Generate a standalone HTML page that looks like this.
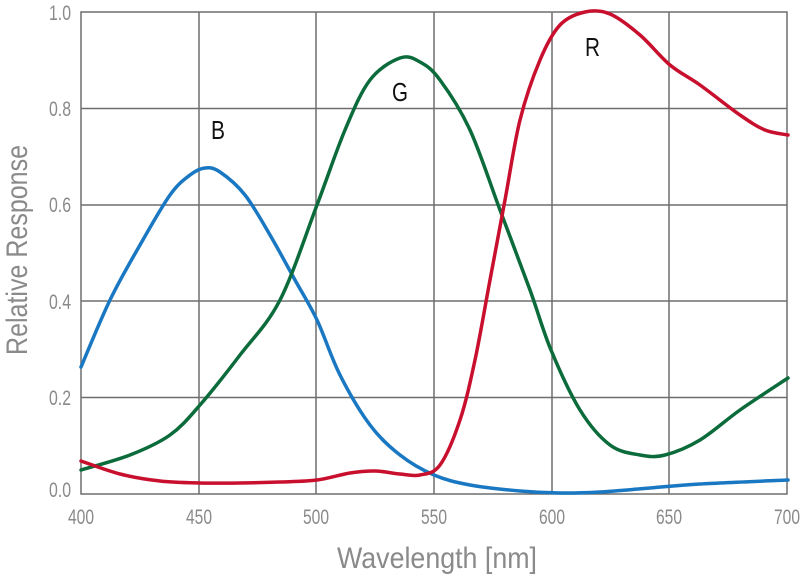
<!DOCTYPE html>
<html><head><style>body{margin:0;background:#fff}svg{display:block}</style></head><body>
<svg id="s" width="800" height="578" xmlns="http://www.w3.org/2000/svg" font-family="'Liberation Sans',sans-serif">
<g stroke="#6e6e6e" stroke-width="1.5" fill="none">
<rect x="81" y="12" width="706" height="482"/>
<line x1="199" y1="12" x2="199" y2="494"/><line x1="316" y1="12" x2="316" y2="494"/>
<line x1="434" y1="12" x2="434" y2="494"/><line x1="552" y1="12" x2="552" y2="494"/>
<line x1="669" y1="12" x2="669" y2="494"/>
<line x1="81" y1="108.5" x2="787" y2="108.5"/><line x1="81" y1="205" x2="787" y2="205"/>
<line x1="81" y1="301" x2="787" y2="301"/><line x1="81" y1="397.5" x2="787" y2="397.5"/>
</g>
<g fill="#8a8a8a" font-size="21">
<text x="49" y="20" textLength="22" lengthAdjust="spacingAndGlyphs">1.0</text>
<text x="49" y="116" textLength="22" lengthAdjust="spacingAndGlyphs">0.8</text>
<text x="49" y="212" textLength="22" lengthAdjust="spacingAndGlyphs">0.6</text>
<text x="49" y="309" textLength="22" lengthAdjust="spacingAndGlyphs">0.4</text>
<text x="49" y="405" textLength="22" lengthAdjust="spacingAndGlyphs">0.2</text>
<text x="49" y="497" textLength="22" lengthAdjust="spacingAndGlyphs">0.0</text>
</g>
<g fill="#8a8a8a" font-size="21">
<text x="68" y="524" textLength="26" lengthAdjust="spacingAndGlyphs">400</text>
<text x="186" y="524" textLength="26" lengthAdjust="spacingAndGlyphs">450</text>
<text x="303" y="524" textLength="26" lengthAdjust="spacingAndGlyphs">500</text>
<text x="421" y="524" textLength="26" lengthAdjust="spacingAndGlyphs">550</text>
<text x="539" y="524" textLength="26" lengthAdjust="spacingAndGlyphs">600</text>
<text x="656" y="524" textLength="26" lengthAdjust="spacingAndGlyphs">650</text>
<text x="774" y="524" textLength="26" lengthAdjust="spacingAndGlyphs">700</text>
</g>
<text x="337" y="568" fill="#8a8a8a" font-size="30" textLength="200" lengthAdjust="spacingAndGlyphs">Wavelength [nm]</text>
<text transform="translate(27,355) rotate(-90)" fill="#8a8a8a" font-size="30" textLength="210" lengthAdjust="spacingAndGlyphs">Relative Response</text>
<g fill="#111" font-size="26">
<text x="211" y="139" textLength="14" lengthAdjust="spacingAndGlyphs">B</text>
<text x="392" y="101" textLength="16" lengthAdjust="spacingAndGlyphs">G</text>
<text x="585" y="56" textLength="15" lengthAdjust="spacingAndGlyphs">R</text>
</g>
</svg>
<script>
var S=document.getElementById('s');
function add(c,a){var p=[];a.split(' ').forEach(function(t){var v=t.split(',');p.push([+v[0],+v[1]]);});
var d='M'+p[0];for(var i=0;i<p.length-1;i++){var p0=p[i-1]||p[i],p1=p[i],p2=p[i+1],p3=p[i+2]||p2;
d+='C'+(p1[0]+(p2[0]-p0[0])/6)+','+(p1[1]+(p2[1]-p0[1])/6)+' '+(p2[0]-(p3[0]-p1[0])/6)+','+(p2[1]-(p3[1]-p1[1])/6)+' '+p2[0]+','+p2[1];}
var e=document.createElementNS('http://www.w3.org/2000/svg','path');e.setAttribute('d',d);e.setAttribute('fill','none');e.setAttribute('stroke',c);e.setAttribute('stroke-width','3.5');e.setAttribute('stroke-linecap','round');S.appendChild(e);}
add('#1a78c2',"81,367 110,300 140,245 170,195 190,175 205,168 220,172 245,195 270,235 295,280 317,320 340,375 370,425 400,455 434,475 470,485 520,491 560,493 600,492 650,488 700,484 788,480");
add('#0b6b3a',"81,470 130,455 170,435 200,405 240,355 280,300 317,205 345,130 370,80 400,58 420,62 440,80 470,130 500,210 530,290 551,350 580,410 610,445 640,455 665,455 700,440 740,410 788,378");
add('#c8102e',"81,461 120,474 160,481 200,483 240,483 280,482 317,480 350,473 375,471 400,474 420,475 440,465 460,420 475,360 490,280 505,200 520,120 540,60 560,25 585,12 610,14 640,35 670,65 700,85 740,115 765,130 788,135");
</script>
</body></html>
